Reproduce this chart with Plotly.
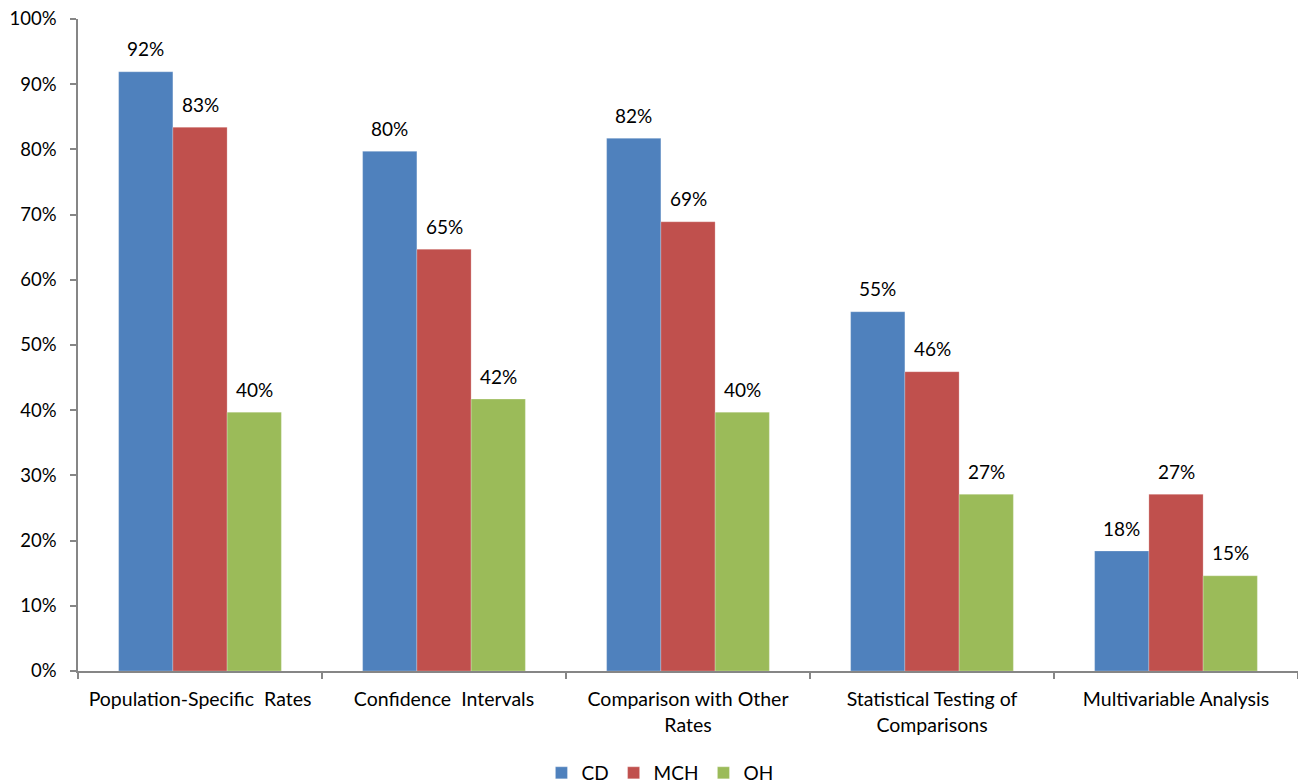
import plotly.graph_objects as go

categories = ["Population-Specific\u00a0\u00a0Rates", "Confidence\u00a0\u00a0Intervals",
              "Comparison with Other<br>Rates", "Statistical Testing of<br>Comparisons",
              "Multivariable Analysis"]
series_names = ["CD", "MCH", "OH"]
cd = [0.919, 0.797, 0.817, 0.551, 0.184]
mch = [0.834, 0.647, 0.689, 0.459, 0.271]
oh = [0.397, 0.417, 0.397, 0.271, 0.146]
colors = ["#4F81BD", "#C0504D", "#9BBB59"]

values = [cd, mch, oh]
font = "Lato, Calibri, 'Open Sans', sans-serif"

fig = go.Figure()
for name, vals, col in zip(series_names, values, colors):
    fig.add_trace(go.Bar(x=categories, y=vals, name=name,
                         marker=dict(color=col, line=dict(color="rgba(255,255,255,0.4)", width=0.6))))

annotations = []
for i, vals in enumerate(values):
    for cat, v in zip(categories, vals):
        annotations.append(dict(x=cat, y=v, xref="x", yref="y", text=f"{round(v*100):.0f}%",
                                showarrow=False, xshift=(i - 1) * 54.5, yshift=23,
                                yanchor="middle", font=dict(size=19, color="#000", family=font)))

fig.update_layout(
    width=1298, height=784,
    margin=dict(l=78, r=0, t=19, b=113, autoexpand=False),
    plot_bgcolor="white", paper_bgcolor="white",
    barmode="group", bargap=0.333, bargroupgap=0,
    font=dict(family=font, size=19, color="#000"),
    annotations=annotations,
    showlegend=True,
    legend=dict(orientation="h", x=0.477, xanchor="center", yref="container", y=0.014,
                yanchor="middle", font=dict(size=19), itemwidth=30, traceorder="normal"),
    xaxis=dict(showline=True, linecolor="#868686", linewidth=1.5, ticks="outside",
               tickson="boundaries", ticklen=6, tickcolor="#868686", tickwidth=1.5,
               tickfont=dict(size=19.5), showgrid=False, automargin=False,
               ticklabelstandoff=10),
    yaxis=dict(range=[0, 1], dtick=0.1, tickformat=".0%", showline=True, linecolor="#868686",
               linewidth=1.5, ticks="outside", ticklen=6, tickcolor="#868686", tickwidth=1.5,
               showgrid=False, zeroline=False, tickfont=dict(size=18.5), automargin=False,
               ticklabelstandoff=10),
)

fig.write_html("out.html")
